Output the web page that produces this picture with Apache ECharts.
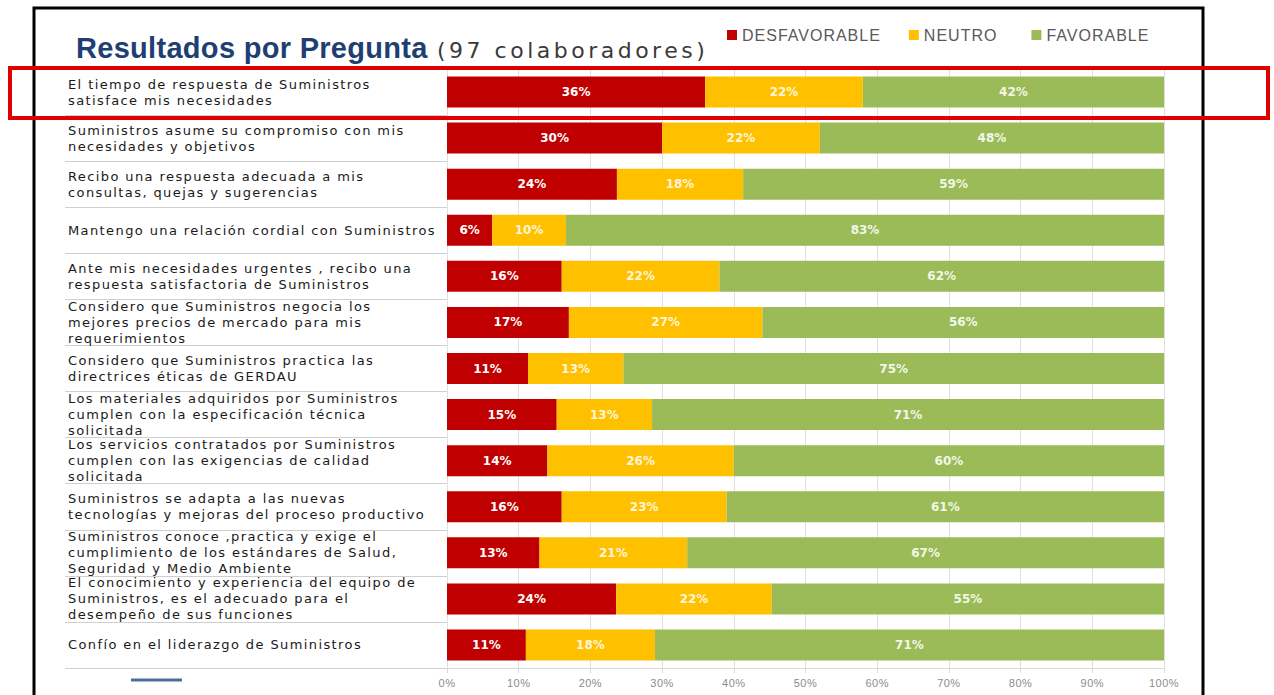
<!DOCTYPE html>
<html>
<head>
<meta charset="utf-8">
<script src="https://cdn.jsdelivr.net/npm/echarts@6/dist/echarts.min.js"></script>
<style>
html,body{margin:0;padding:0;background:#fff;}
#chart{width:1274px;height:695px;}
#chart text[style*="spcA"]{letter-spacing:1.4px;}
#chart text[style*="spcB"]{letter-spacing:3.5px;}
#chart text[style*="spcC"]{letter-spacing:1px;}
#chart text[style*="spcD"]{letter-spacing:0.3px;}
#chart text[style*="spcE"]{letter-spacing:0.5px;}
</style>
</head>
<body>
<div id="chart"></div>
<script>
const questions = [
  "El tiempo de respuesta de Suministros\nsatisface mis necesidades",
  "Suministros asume su compromiso con mis\nnecesidades y objetivos",
  "Recibo una respuesta adecuada a mis\nconsultas, quejas y sugerencias",
  "Mantengo una relación cordial con Suministros",
  "Ante mis necesidades urgentes , recibo una\nrespuesta satisfactoria de Suministros",
  "Considero que Suministros negocia los\nmejores precios de mercado para mis\nrequerimientos",
  "Considero que Suministros practica las\ndirectrices éticas de GERDAU",
  "Los materiales adquiridos por Suministros\ncumplen con la especificación técnica\nsolicitada",
  "Los servicios contratados por Suministros\ncumplen con las exigencias de calidad\nsolicitada",
  "Suministros se adapta a las nuevas\ntecnologías y mejoras del proceso productivo",
  "Suministros conoce ,practica y exige el\ncumplimiento de los estándares de Salud,\nSeguridad y Medio Ambiente",
  "El conocimiento y experiencia del equipo de\nSuministros, es el adecuado para el\ndesempeño de sus funciones",
  "Confío en el liderazgo de Suministros"
];
const desfavorable = [36, 30, 23.7, 6.3, 16, 17, 11.3, 15.3, 14, 16, 12.9, 23.6, 11];
const neutro       = [22, 22, 17.6, 10.3, 22, 27, 13.3, 13.3, 26, 23, 20.6, 21.7, 18];
const favorable    = [42, 48, 58.7, 83.4, 62, 56, 75.4, 71.4, 60, 61, 66.5, 54.7, 71];
const seriesNames = ["DESFAVORABLE", "NEUTRO", "FAVORABLE"];
const colors = ["#C00000", "#FFC000", "#9BBB59"];
const labelColors = ["#FFFFFF", "#FFF6DA", "#F2F7E8"];
const titleMain = "Resultados por Pregunta";
const titleSub = "(97 colaboradores)";

const chart = echarts.init(document.getElementById('chart'), null, { renderer: 'svg' });
function mk(i, data) {
  return {
    name: seriesNames[i], type: 'bar', stack: 'total', data: data, barWidth: 31,
    itemStyle: { color: colors[i] },
    label: {
      show: true, position: 'inside', color: labelColors[i],
      fontFamily: 'DejaVu Sans', fontWeight: 'bold', fontSize: 12,
      formatter: p => Math.round(p.value) + '%'
    }
  };
}
chart.setOption({
  animation: false,
  legend: {
    left: 722, top: 22, itemWidth: 10, itemHeight: 10, itemGap: 40,
    icon: 'rect',
    textStyle: { fontFamily: 'Liberation Sans, spcC', fontSize: 16, color: '#595959' },
    data: seriesNames
  },
  grid: { left: 447, right: 110, top: 69, bottom: 27, containLabel: false },
  xAxis: {
    type: 'value', min: 0, max: 100, interval: 10,
    axisLine: { show: true, lineStyle: { color: '#d9d9d9' } },
    axisTick: { show: true, length: 5, lineStyle: { color: '#d9d9d9' } },
    splitLine: { show: true, lineStyle: { color: '#e0e0e0' } },
    axisLabel: { formatter: '{value}%', color: '#8c8c8c', fontFamily: 'Liberation Sans, spcE', fontSize: 11, margin: 9 }
  },
  yAxis: {
    type: 'category', inverse: true, data: questions,
    axisLine: { show: false },
    axisTick: { show: true, length: 382, lineStyle: { color: '#cfcfcf' } },
    axisLabel: {
      interval: 0, align: 'left', margin: 379, color: '#1a1a1a',
      fontFamily: 'DejaVu Sans, spcA', fontSize: 13, lineHeight: 16
    }
  },
  series: [ mk(0, desfavorable), mk(1, neutro), mk(2, favorable) ],
  color: colors,
  graphic: [
    { type: 'text', z: 100, x: 76, y: 47.5,
      style: { text: titleMain, fill: '#1F3F73', verticalAlign: 'middle', align: 'left',
               font: 'bold 29px Liberation Sans, spcD' } },
    { type: 'text', z: 100, x: 437, y: 50,
      style: { text: titleSub, fill: '#3a3a3a', verticalAlign: 'middle', align: 'left',
               font: '22px DejaVu Sans, spcB' } },
    { type: 'polyline', z: 100, shape: { points: [[34, 695], [34, 8], [1203, 8], [1203, 695]] },
      style: { stroke: '#000', lineWidth: 3, fill: null } },
    { type: 'rect', z: 101, shape: { x: 10, y: 68, width: 1258, height: 50 },
      style: { stroke: '#E00000', lineWidth: 4, fill: null } },
    { type: 'line', z: 100, shape: { x1: 131, y1: 680, x2: 182, y2: 680 },
      style: { stroke: '#4F6E9E', lineWidth: 3 } }
  ]
});
</script>
</body>
</html>
